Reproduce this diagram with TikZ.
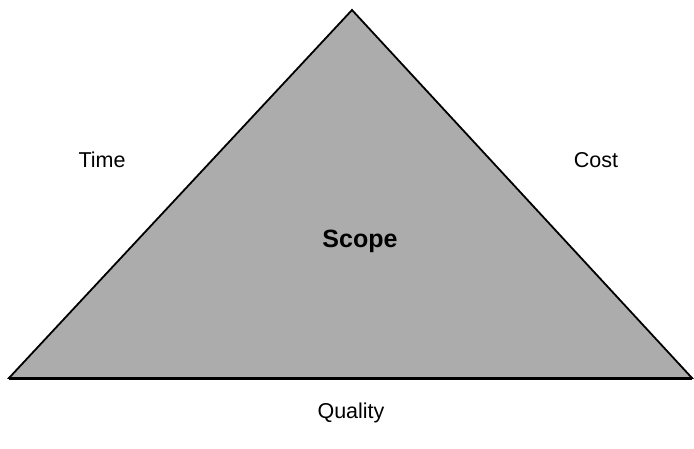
\documentclass[tikz,border=0pt]{standalone}
\usepackage{fontspec}
\setmainfont{Liberation Sans}
\begin{document}
\begin{tikzpicture}[x=1pt,y=-1pt,
  lbl/.style={font=\fontsize{21.5}{24}\selectfont, inner sep=0pt},
  tri/.style={draw=black, line width=1.8pt, line join=miter, fill=gray!65}]
\useasboundingbox (0,0) rectangle (694,448);
\coordinate (apex) at (352,10);
\coordinate (bl) at (9,378);
\coordinate (br) at (692,378);
\draw[tri] (bl) -- (apex) -- (br) -- cycle;
\draw[line width=3pt] (bl) -- (br);
\node[lbl] (time) at (102,160) {Time};
\node[lbl] (cost) at (596,160) {Cost};
\node[lbl, font=\fontsize{25}{28}\selectfont\bfseries] (scope) at (360,241) {Scope};
\node[lbl] (quality) at (351,413) {Quality};
\end{tikzpicture}
\end{document}
